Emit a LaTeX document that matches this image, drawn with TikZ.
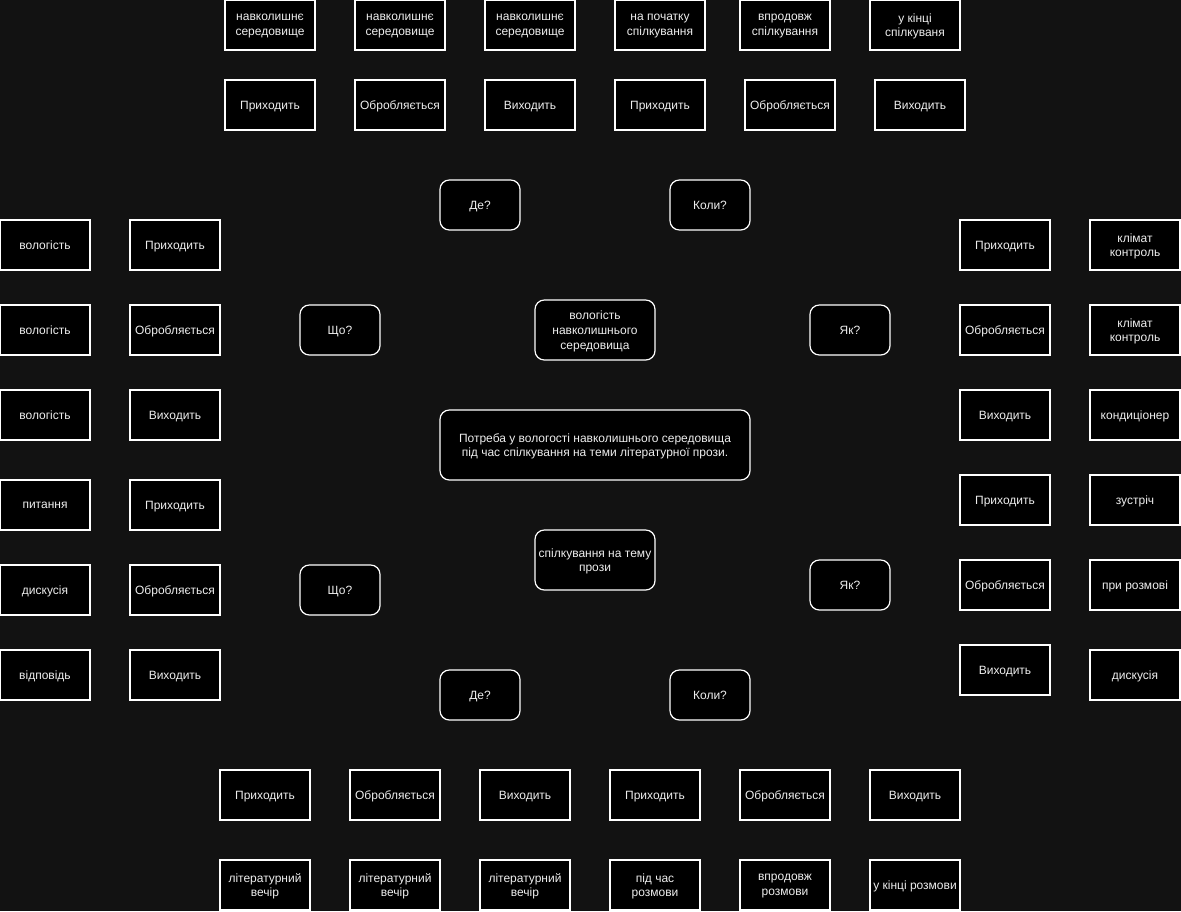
\documentclass[tikz,border=0pt]{standalone}
\usepackage{fontspec}
\setmainfont{Liberation Sans}
\usepackage{tikz}
\definecolor{bgdark}{HTML}{121212}
\definecolor{txtgrey}{HTML}{EEEEEE}
\tikzset{
    cell/.style={draw=white, line width=0.9pt, fill=black, text=txtgrey, align=center,
        minimum width=67.5pt, minimum height=37.5pt, inner sep=1pt, text depth=0pt,
        font=\fontsize{9}{11}\selectfont},
    qbox/.style={cell, rounded corners=7pt, minimum width=60pt}
}

\begin{document}
\begin{tikzpicture}[x=0.75pt, y=-0.75pt]
        \fill[bgdark] (0,0) rectangle (1181,911);
        \useasboundingbox (0,0) rectangle (1181,911);

        % top rows
        \node[cell] (env1) at (270,25) {навколишнє\\середовище};
        \node[cell] (env2) at (400,25) {навколишнє\\середовище};
        \node[cell] (env3) at (530,25) {навколишнє\\середовище};
        \node[cell] (tbeg) at (660,25) {на початку\\спілкування};
        \node[cell] (tmid) at (785,25) {впродовж\\спілкування};
        \node[cell] (tend) at (915,25) {у кінці\\спілкуваня};

        \node[cell] (tin1) at (270,105) {Приходить};
        \node[cell] (tpr1) at (400,105) {Обробляється};
        \node[cell] (tout1) at (530,105) {Виходить};
        \node[cell] (tin2) at (660,105) {Приходить};
        \node[cell] (tpr2) at (790,105) {Обробляється};
        \node[cell] (tout2) at (920,105) {Виходить};

        % questions
        \node[qbox] (where1) at (480,205) {Де?};
        \node[qbox] (when1) at (710,205) {Коли?};
        \node[qbox] (what1) at (340,330) {Що?};
        \node[qbox] (what2) at (340,590) {Що?};
        \node[qbox] (how1) at (850,330) {Як?};
        \node[qbox] (how2) at (850,585) {Як?};
        \node[qbox] (where2) at (480,695) {Де?};
        \node[qbox] (when2) at (710,695) {Коли?};

        % centre
        \node[qbox, minimum width=90pt, minimum height=45pt] (hum) at (595,330) {вологість\\навколишнього\\середовища};
        \node[qbox, minimum width=232.5pt, minimum height=52.5pt] (need) at (595,445) {Потреба у вологості навколишнього середовища\\під час спілкування на теми літературної прози.};
        \node[qbox, minimum width=90pt, minimum height=45pt] (talk) at (595,560) {спілкування на тему\\прози};

        % left columns
        \node[cell] (lw1) at (45,245) {вологість};
        \node[cell] (lw2) at (45,330) {вологість};
        \node[cell] (lw3) at (45,415) {вологість};
        \node[cell] (lq) at (45,505) {питання};
        \node[cell] (ld) at (45,590) {дискусія};
        \node[cell] (la) at (45,675) {відповідь};

        \node[cell] (lin1) at (175,245) {Приходить};
        \node[cell] (lpr1) at (175,330) {Обробляється};
        \node[cell] (lout1) at (175,415) {Виходить};
        \node[cell] (lin2) at (175,505) {Приходить};
        \node[cell] (lpr2) at (175,590) {Обробляється};
        \node[cell] (lout2) at (175,675) {Виходить};

        % right columns
        \node[cell] (rin1) at (1005,245) {Приходить};
        \node[cell] (rpr1) at (1005,330) {Обробляється};
        \node[cell] (rout1) at (1005,415) {Виходить};
        \node[cell] (rin2) at (1005,500) {Приходить};
        \node[cell] (rpr2) at (1005,585) {Обробляється};
        \node[cell] (rout2) at (1005,670) {Виходить};

        \node[cell] (rc1) at (1135,245) {клімат\\контроль};
        \node[cell] (rc2) at (1135,330) {клімат\\контроль};
        \node[cell] (rac) at (1135,415) {кондиціонер};
        \node[cell] (rmeet) at (1135,500) {зустріч};
        \node[cell] (rconv) at (1135,585) {при розмові};
        \node[cell] (rdisc) at (1135,675) {дискусія};

        % bottom rows
        \node[cell] (bin1) at (265,795) {Приходить};
        \node[cell] (bpr1) at (395,795) {Обробляється};
        \node[cell] (bout1) at (525,795) {Виходить};
        \node[cell] (bin2) at (655,795) {Приходить};
        \node[cell] (bpr2) at (785,795) {Обробляється};
        \node[cell] (bout2) at (915,795) {Виходить};

        \node[cell] (lit1) at (265,885) {літературний\\вечір};
        \node[cell] (lit2) at (395,885) {літературний\\вечір};
        \node[cell] (lit3) at (525,885) {літературний\\вечір};
        \node[cell] (bbeg) at (655,885) {під час\\розмови};
        \node[cell] (bmid) at (785,885) {впродовж\\розмови};
        \node[cell] (bend) at (915,885) {у кінці розмови};

    \end{tikzpicture}
\end{document}
